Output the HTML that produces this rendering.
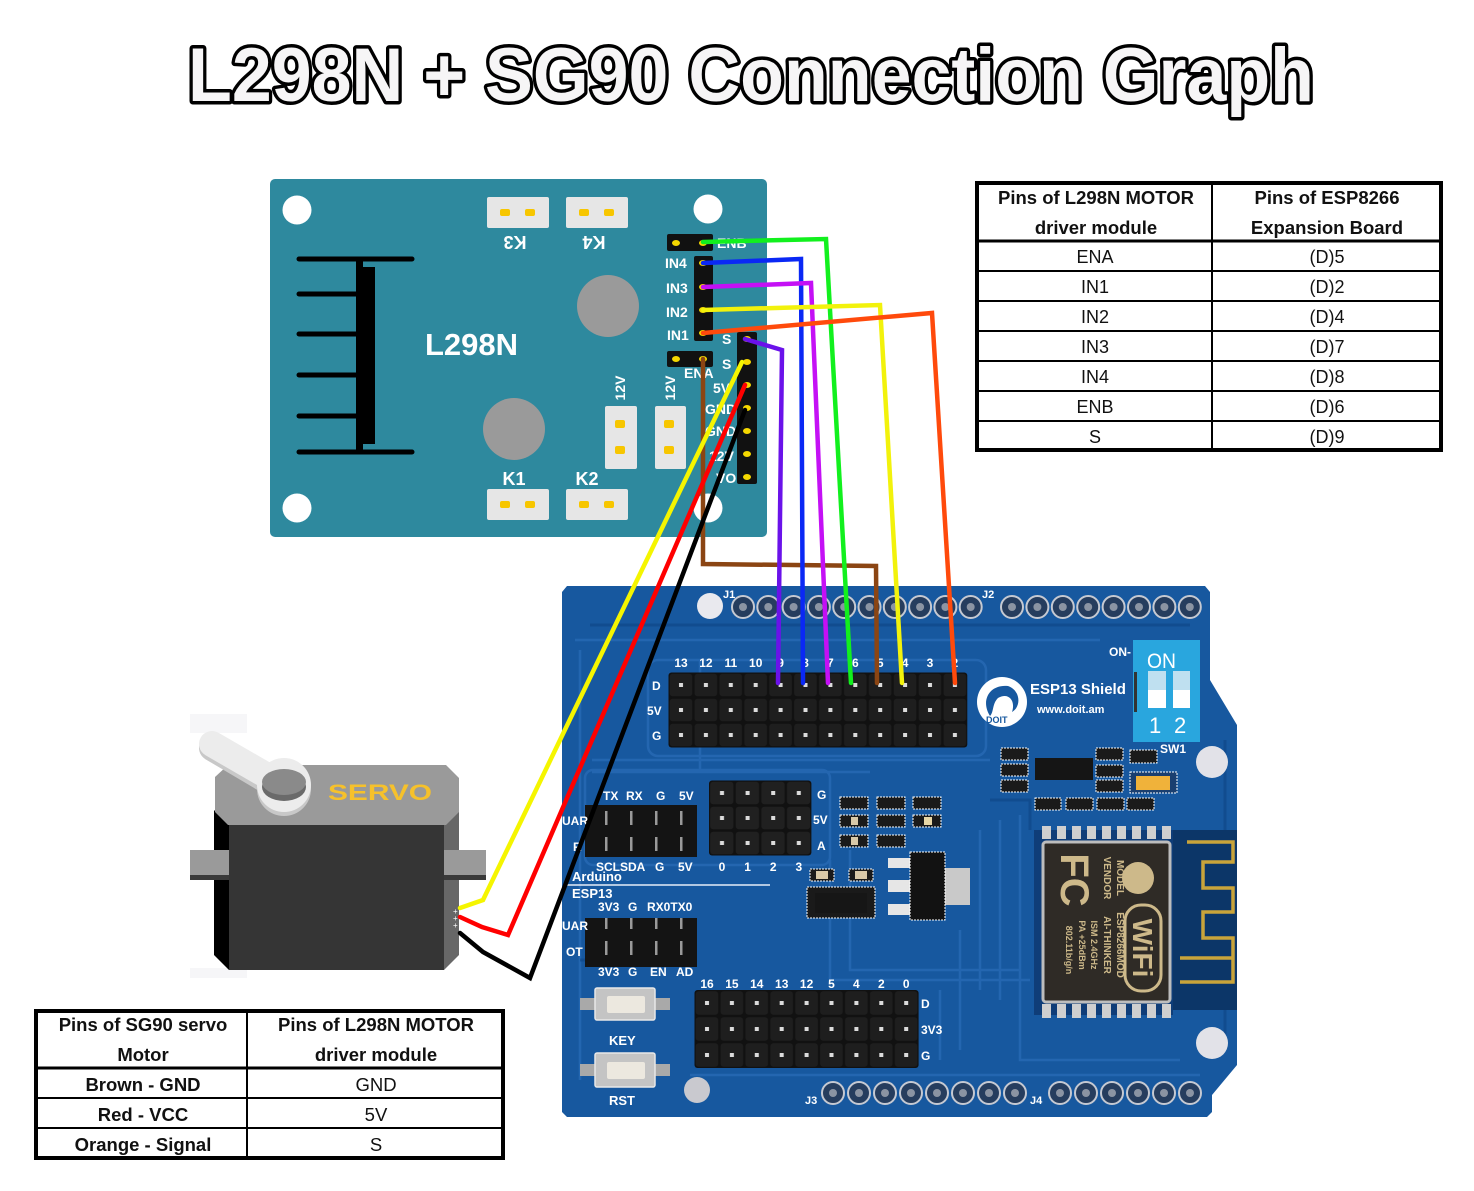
<!DOCTYPE html>
<html><head><meta charset="utf-8">
<style>
html,body{margin:0;padding:0;background:#fff;}
svg{display:block;}
text{font-family:"Liberation Sans",sans-serif;}
</style></head><body>
<svg width="1474" height="1191" viewBox="0 0 1474 1191" xmlns="http://www.w3.org/2000/svg">
<defs>
<pattern id="pd" x="668.5" y="672.5" width="24.9" height="25" patternUnits="userSpaceOnUse">
<rect width="24.9" height="25" fill="#111"/><rect x="1.2" y="1.2" width="22.5" height="22.6" rx="3" fill="#1e1e1e"/><rect x="10.5" y="10.5" width="4" height="4" fill="#dcdcdc"/></pattern>
<pattern id="pb" x="694.5" y="990" width="24.9" height="26" patternUnits="userSpaceOnUse">
<rect width="24.9" height="26" fill="#111"/><rect x="1.2" y="1.2" width="22.5" height="23.6" rx="3" fill="#1e1e1e"/><rect x="10.5" y="11" width="4" height="4" fill="#dcdcdc"/></pattern>
<pattern id="pc" x="709" y="780.5" width="25.6" height="25" patternUnits="userSpaceOnUse">
<rect width="25.6" height="25" fill="#111"/><rect x="1.2" y="1.2" width="23.2" height="22.6" rx="3" fill="#202020"/><rect x="11" y="10.5" width="4" height="4" fill="#dcdcdc"/></pattern>
<pattern id="pf" x="593.5" y="805" width="25" height="26" patternUnits="userSpaceOnUse">
<rect width="25" height="26" fill="#141414"/><rect x="11.5" y="6" width="2.5" height="14" fill="#9a9a9a"/></pattern>
</defs>

<!-- Title -->
<text x="188" y="101" font-size="76" font-weight="bold" textLength="1126" lengthAdjust="spacingAndGlyphs" fill="#f6f5f6" stroke="#000" stroke-width="7" stroke-linejoin="round" paint-order="stroke">L298N + SG90 Connection Graph</text>

<!-- ===== L298N board ===== -->
<rect x="270" y="179" width="497" height="358" rx="5" fill="#2e899e"/>
<circle cx="297" cy="210" r="14.5" fill="#fff"/>
<circle cx="708" cy="209" r="14.5" fill="#fff"/>
<circle cx="297" cy="508" r="14.5" fill="#fff"/>
<circle cx="708" cy="508" r="14.5" fill="#fff"/>
<!-- K connectors -->
<g fill="#e6e6e6">
<rect x="487" y="197" width="62" height="31" rx="2"/>
<rect x="566" y="197" width="62" height="31" rx="2"/>
<rect x="487" y="489" width="62" height="31" rx="2"/>
<rect x="566" y="489" width="62" height="31" rx="2"/>
</g>
<g fill="#f7c600">
<rect x="500" y="209" width="10" height="7" rx="2"/><rect x="525" y="209" width="10" height="7" rx="2"/>
<rect x="579" y="209" width="10" height="7" rx="2"/><rect x="604" y="209" width="10" height="7" rx="2"/>
<rect x="500" y="501" width="10" height="7" rx="2"/><rect x="525" y="501" width="10" height="7" rx="2"/>
<rect x="579" y="501" width="10" height="7" rx="2"/><rect x="604" y="501" width="10" height="7" rx="2"/>
</g>
<g fill="#fff" font-weight="bold" font-size="18">
<text x="515" y="242" text-anchor="middle" transform="rotate(180 515 242)" dy="6">K3</text>
<text x="594" y="242" text-anchor="middle" transform="rotate(180 594 242)" dy="6">K4</text>
<text x="514" y="485" text-anchor="middle">K1</text>
<text x="587" y="485" text-anchor="middle">K2</text>
</g>
<!-- heatsink -->
<g stroke="#000" stroke-width="5" stroke-linecap="round">
<line x1="299" y1="259" x2="412" y2="259"/>
<line x1="299" y1="452" x2="412" y2="452"/>
<line x1="299" y1="294" x2="356" y2="294"/>
<line x1="299" y1="334" x2="356" y2="334"/>
<line x1="299" y1="375" x2="356" y2="375"/>
<line x1="299" y1="416" x2="356" y2="416"/>
</g>
<rect x="356" y="260" width="7" height="192" fill="#000"/>
<rect x="362" y="267" width="13" height="177" fill="#000"/>
<text x="425" y="355" font-size="31" font-weight="bold" fill="#fff">L298N</text>
<circle cx="608" cy="306" r="31" fill="#9a9a9a"/>
<circle cx="514" cy="429" r="31" fill="#9a9a9a"/>
<!-- 12V connectors -->
<rect x="605" y="406" width="32" height="63" rx="2" fill="#e6e6e6"/>
<rect x="655" y="406" width="31" height="63" rx="2" fill="#e6e6e6"/>
<g fill="#f7c600">
<rect x="615" y="420" width="10" height="8" rx="2"/><rect x="615" y="446" width="10" height="8" rx="2"/>
<rect x="664" y="420" width="10" height="8" rx="2"/><rect x="664" y="446" width="10" height="8" rx="2"/>
</g>
<g fill="#fff" font-weight="bold" font-size="14">
<text x="620" y="388" text-anchor="middle" transform="rotate(-90 620 388)" dy="5">12V</text>
<text x="670" y="388" text-anchor="middle" transform="rotate(-90 670 388)" dy="5">12V</text>
</g>
<!-- pin headers -->
<rect x="667" y="234" width="46" height="17" rx="2" fill="#111"/>
<rect x="694" y="256" width="19" height="85" rx="2" fill="#111"/>
<rect x="667" y="351" width="46" height="16" rx="2" fill="#111"/>
<rect x="737" y="332" width="20" height="152" rx="2" fill="#111"/>
<g fill="#f5d800">
<ellipse cx="676" cy="243" rx="4" ry="3"/><ellipse cx="703" cy="243" rx="4" ry="3"/>
<ellipse cx="703" cy="263" rx="4" ry="3"/><ellipse cx="703" cy="287" rx="4" ry="3"/>
<ellipse cx="703" cy="310" rx="4" ry="3"/><ellipse cx="703" cy="333" rx="4" ry="3"/>
<ellipse cx="676" cy="359" rx="4" ry="3"/><ellipse cx="703" cy="359" rx="4" ry="3"/>
<ellipse cx="747" cy="339" rx="4" ry="3"/><ellipse cx="747" cy="362" rx="4" ry="3"/>
<ellipse cx="747" cy="385" rx="4" ry="3"/><ellipse cx="747" cy="408" rx="4" ry="3"/>
<ellipse cx="747" cy="431" rx="4" ry="3"/><ellipse cx="747" cy="454" rx="4" ry="3"/>
<ellipse cx="747" cy="477" rx="4" ry="3"/>
</g>
<g fill="#fff" font-weight="bold" font-size="14">
<text x="665" y="268">IN4</text>
<text x="666" y="293">IN3</text>
<text x="666" y="317">IN2</text>
<text x="667" y="340">IN1</text>
<text x="717" y="248">ENB</text>
<text x="684" y="378">ENA</text>
<text x="722" y="344">S</text>
<text x="722" y="369">S</text>
<text x="713" y="393">5V</text>
<text x="705" y="414">GND</text>
<text x="705" y="436">GND</text>
<text x="709" y="461">12V</text>
<text x="716" y="483">VO</text>
</g>

<!-- ===== ESP13 shield board ===== -->
<polygon points="562,592 567,586 1205,586 1210,592 1210,680 1237,725 1237,1065 1212,1095 1212,1112 1207,1117 567,1117 562,1112" fill="#17589f"/>
<g fill="none" stroke="#2a6cb8" stroke-width="2.5" opacity="0.7">
<rect x="648" y="660" width="338" height="96" rx="10"/>
<path d="M575,640 H1100 M580,650 V1080 M592,760 H990 M592,772 H870 M700,770 V660"/>
<path d="M830,860 V980 H1030 M850,850 V970 H1020 M980,830 V990 M1000,820 V1000 M1020,815 V1060 H1180"/>
<path d="M690,1075 H1200 M940,990 V1060 M960,930 V1050"/>
<rect x="585" y="770" width="245" height="95" rx="8"/>
</g>
<g stroke="#0d4486" stroke-width="3" fill="none" opacity="0.6">
<path d="M590,625 H1190 M1225,740 V1050 M600,960 H580 M990,800 H1030 V830"/>
</g>
<!-- mount holes -->
<circle cx="710" cy="606" r="13" fill="#e9e9ee"/>
<circle cx="1212" cy="762" r="16" fill="#e2e2e8"/>
<circle cx="1212" cy="1043" r="16" fill="#e2e2e8"/>
<circle cx="697" cy="1090" r="13" fill="#c9c9cf"/>
<!-- J headers -->
<g fill="#263d5e" stroke="#c5c9d2" stroke-width="2">
<circle cx="743" cy="607" r="11"/><circle cx="768.3" cy="607" r="11"/><circle cx="793.6" cy="607" r="11"/><circle cx="818.9" cy="607" r="11"/><circle cx="844.2" cy="607" r="11"/>
<circle cx="869.5" cy="607" r="11"/><circle cx="894.8" cy="607" r="11"/><circle cx="920.1" cy="607" r="11"/><circle cx="945.4" cy="607" r="11"/><circle cx="970.7" cy="607" r="11"/>
<circle cx="1012" cy="607" r="11"/><circle cx="1037.4" cy="607" r="11"/><circle cx="1062.8" cy="607" r="11"/><circle cx="1088.2" cy="607" r="11"/>
<circle cx="1113.6" cy="607" r="11"/><circle cx="1139" cy="607" r="11"/><circle cx="1164.4" cy="607" r="11"/><circle cx="1189.8" cy="607" r="11"/>
<circle cx="833" cy="1093" r="11"/><circle cx="859" cy="1093" r="11"/><circle cx="885" cy="1093" r="11"/><circle cx="911" cy="1093" r="11"/>
<circle cx="937" cy="1093" r="11"/><circle cx="963" cy="1093" r="11"/><circle cx="989" cy="1093" r="11"/><circle cx="1015" cy="1093" r="11"/>
<circle cx="1060" cy="1093" r="11"/><circle cx="1086" cy="1093" r="11"/><circle cx="1112" cy="1093" r="11"/><circle cx="1138" cy="1093" r="11"/><circle cx="1164" cy="1093" r="11"/><circle cx="1190" cy="1093" r="11"/>
</g>
<g fill="#8b94a3">
<circle cx="743" cy="607" r="4"/><circle cx="768.3" cy="607" r="4"/><circle cx="793.6" cy="607" r="4"/><circle cx="818.9" cy="607" r="4"/><circle cx="844.2" cy="607" r="4"/>
<circle cx="869.5" cy="607" r="4"/><circle cx="894.8" cy="607" r="4"/><circle cx="920.1" cy="607" r="4"/><circle cx="945.4" cy="607" r="4"/><circle cx="970.7" cy="607" r="4"/>
<circle cx="1012" cy="607" r="4"/><circle cx="1037.4" cy="607" r="4"/><circle cx="1062.8" cy="607" r="4"/><circle cx="1088.2" cy="607" r="4"/>
<circle cx="1113.6" cy="607" r="4"/><circle cx="1139" cy="607" r="4"/><circle cx="1164.4" cy="607" r="4"/><circle cx="1189.8" cy="607" r="4"/>
<circle cx="833" cy="1093" r="4"/><circle cx="859" cy="1093" r="4"/><circle cx="885" cy="1093" r="4"/><circle cx="911" cy="1093" r="4"/>
<circle cx="937" cy="1093" r="4"/><circle cx="963" cy="1093" r="4"/><circle cx="989" cy="1093" r="4"/><circle cx="1015" cy="1093" r="4"/>
<circle cx="1060" cy="1093" r="4"/><circle cx="1086" cy="1093" r="4"/><circle cx="1112" cy="1093" r="4"/><circle cx="1138" cy="1093" r="4"/><circle cx="1164" cy="1093" r="4"/><circle cx="1190" cy="1093" r="4"/>
</g>
<!-- main headers -->
<rect x="668.5" y="672.5" width="298.8" height="75" rx="3" fill="url(#pd)"/>
<rect x="694.5" y="990" width="224.1" height="78" rx="3" fill="url(#pb)"/>
<rect x="709" y="780.5" width="102.4" height="75" rx="3" fill="url(#pc)"/>
<rect x="585" y="805" width="112" height="52" fill="#141414"/>
<rect x="593.5" y="805" width="100" height="52" fill="url(#pf)"/>
<rect x="585" y="918" width="112" height="49" fill="#141414"/>
<rect x="593.5" y="918" width="100" height="49" fill="url(#pf)"/>
<!-- buttons -->
<g>
<rect x="580" y="998" width="90" height="12" fill="#a9a9a9"/>
<rect x="595" y="988" width="60" height="32" rx="2" fill="#c4c4c4" stroke="#e8e8e8" stroke-width="1.5"/>
<rect x="607" y="996" width="38" height="17" rx="2" fill="#ece8df"/>
<rect x="580" y="1064" width="90" height="12" fill="#a9a9a9"/>
<rect x="595" y="1053" width="60" height="34" rx="2" fill="#c4c4c4" stroke="#e8e8e8" stroke-width="1.5"/>
<rect x="607" y="1062" width="38" height="17" rx="2" fill="#ece8df"/>
</g>
<!-- logo -->
<circle cx="1002" cy="702" r="25" fill="#fff"/>
<path d="M990,716 C980,700 990,684 1008,686 C1020,690 1022,706 1012,712 C1016,700 1008,692 998,698 C992,704 994,712 990,716 Z" fill="#17589f"/>
<text x="986" y="723" font-size="9" font-weight="bold" fill="#17589f">DOIT</text>
<!-- DIP switch -->
<rect x="1133" y="640" width="67" height="102" fill="#29a6de"/>
<rect x="1134" y="672" width="3" height="40" fill="#333"/>
<rect x="1148" y="671" width="18" height="37" fill="#bfe0f0"/>
<rect x="1148" y="690" width="18" height="18" fill="#fff"/>
<rect x="1173" y="671" width="17" height="37" fill="#bfe0f0"/>
<rect x="1173" y="690" width="17" height="18" fill="#fff"/>
<g fill="#fff">
<text x="1147" y="668" font-size="21" textLength="29" lengthAdjust="spacingAndGlyphs">ON</text>
<text x="1149" y="733" font-size="22">1</text>
<text x="1174" y="733" font-size="22">2</text>
</g>
<!-- SMD components -->
<g fill="#1a1a1a" stroke="#fff" stroke-width="1" stroke-dasharray="2,1">
<rect x="840" y="797" width="28" height="12"/><rect x="877" y="797" width="28" height="12"/><rect x="913" y="797" width="28" height="12"/>
<rect x="840" y="815" width="28" height="12"/><rect x="877" y="815" width="28" height="12"/><rect x="913" y="815" width="28" height="12"/>
<rect x="840" y="835" width="28" height="12"/><rect x="877" y="835" width="28" height="12"/>
<rect x="810" y="869" width="24" height="12"/><rect x="849" y="869" width="24" height="12"/>
<rect x="807" y="887" width="68" height="31"/>
<rect x="1001" y="748" width="27" height="12"/><rect x="1001" y="764" width="27" height="12"/><rect x="1001" y="780" width="27" height="12"/>
<rect x="1096" y="748" width="27" height="12"/><rect x="1096" y="765" width="27" height="12"/><rect x="1096" y="780" width="27" height="12"/>
<rect x="1130" y="750" width="27" height="13"/>
<rect x="1035" y="798" width="26" height="12"/><rect x="1066" y="798" width="27" height="12"/><rect x="1097" y="798" width="27" height="12"/><rect x="1127" y="798" width="27" height="12"/>
<rect x="1130" y="772" width="47" height="21" fill="#1a3f70"/>
</g>
<g fill="#d9c9a8">
<rect x="851" y="817" width="7" height="8"/><rect x="851" y="837" width="7" height="8"/><rect x="924" y="817" width="8" height="8" fill="#e8d7a6"/>
<rect x="816" y="871" width="12" height="8"/><rect x="855" y="871" width="12" height="8"/>
</g>
<rect x="1136" y="776" width="34" height="14" fill="#f0b23a"/>
<rect x="1035" y="758" width="58" height="22" fill="#151515"/>
<rect x="815" y="893" width="52" height="20" fill="#161616"/>
<!-- regulator -->
<g fill="#e6e6e6">
<rect x="888" y="858" width="22" height="10"/><rect x="888" y="880" width="22" height="12"/><rect x="888" y="904" width="22" height="11"/>
</g>
<rect x="945" y="868" width="25" height="37" fill="#c9c9c9"/>
<rect x="910" y="852" width="35" height="68" fill="#121212" stroke="#fff" stroke-width="1" stroke-dasharray="2,1"/>
<!-- ESP module -->
<rect x="1034" y="830" width="139" height="185" fill="#0f3d78"/>
<rect x="1173" y="830" width="64" height="180" fill="#0c3668"/>
<path d="M1187,842 H1233 V862 H1203 V888 H1233 V912 H1203 V938 H1233 V982 H1180 M1180,958 H1233" fill="none" stroke="#c9a43a" stroke-width="3.5"/>
<g fill="#cfcfcf">
<rect x="1042" y="826" width="9" height="13"/><rect x="1057" y="826" width="9" height="13"/><rect x="1072" y="826" width="9" height="13"/><rect x="1087" y="826" width="9" height="13"/><rect x="1102" y="826" width="9" height="13"/><rect x="1117" y="826" width="9" height="13"/><rect x="1132" y="826" width="9" height="13"/><rect x="1147" y="826" width="9" height="13"/><rect x="1162" y="826" width="9" height="13"/>
<rect x="1042" y="1004" width="9" height="14"/><rect x="1057" y="1004" width="9" height="14"/><rect x="1072" y="1004" width="9" height="14"/><rect x="1087" y="1004" width="9" height="14"/><rect x="1102" y="1004" width="9" height="14"/><rect x="1117" y="1004" width="9" height="14"/><rect x="1132" y="1004" width="9" height="14"/><rect x="1147" y="1004" width="9" height="14"/><rect x="1162" y="1004" width="9" height="14"/>
</g>
<rect x="1043" y="842" width="127" height="160" rx="3" fill="#2f2b26" stroke="#bdbdbd" stroke-width="3"/>
<g fill="#cdb98a" font-weight="bold">
<text x="1075" y="880" font-size="40" transform="rotate(90 1075 880)" text-anchor="middle" dy="14">FC</text>
<circle cx="1138" cy="878" r="16"/>
<rect x="1125" y="905" width="36" height="86" rx="16" fill="none" stroke="#cdb98a" stroke-width="3"/>
<text x="1143" y="948" font-size="28" transform="rotate(90 1143 948)" text-anchor="middle" dy="10">WiFi</text>
<text x="1117" y="878" font-size="10" transform="rotate(90 1117 878)" text-anchor="middle">MODEL</text>
<text x="1104" y="878" font-size="10" transform="rotate(90 1104 878)" text-anchor="middle">VENDOR</text>
<text x="1117" y="945" font-size="10" transform="rotate(90 1117 945)" text-anchor="middle">ESP8266MOD</text>
<text x="1104" y="945" font-size="10" transform="rotate(90 1104 945)" text-anchor="middle">AI-THINKER</text>
<text x="1091" y="945" font-size="9" transform="rotate(90 1091 945)" text-anchor="middle">ISM  2.4GHz</text>
<text x="1079" y="945" font-size="9" transform="rotate(90 1079 945)" text-anchor="middle">PA  +25dBm</text>
<text x="1066" y="950" font-size="9" transform="rotate(90 1066 950)" text-anchor="middle">802.11b/g/n</text>
</g>
<!-- ESP labels -->
<g fill="#fff" font-weight="bold" font-size="12" text-anchor="middle">
<text x="681" y="667">13</text><text x="705.9" y="667">12</text><text x="730.8" y="667">11</text><text x="755.7" y="667">10</text>
<text x="780.6" y="667">9</text><text x="805.5" y="667">8</text><text x="830.4" y="667">7</text><text x="855.3" y="667">6</text>
<text x="880.2" y="667">5</text><text x="905.1" y="667">4</text><text x="930" y="667">3</text><text x="954.9" y="667">2</text>
<text x="707" y="988">16</text><text x="731.9" y="988">15</text><text x="756.8" y="988">14</text><text x="781.7" y="988">13</text>
<text x="806.6" y="988">12</text><text x="831.5" y="988">5</text><text x="856.4" y="988">4</text><text x="881.3" y="988">2</text><text x="906.2" y="988">0</text>
<text x="722" y="871">0</text><text x="747.6" y="871">1</text><text x="773.2" y="871">2</text><text x="798.8" y="871">3</text>
</g>
<g fill="#fff" font-weight="bold" font-size="12">
<text x="652" y="690">D</text><text x="647" y="715">5V</text><text x="652" y="740">G</text>
<text x="723" y="598" font-size="11">J1</text><text x="982" y="598" font-size="11">J2</text>
<text x="805" y="1104" font-size="11">J3</text><text x="1030" y="1104" font-size="11">J4</text>
<text x="1109" y="656">ON-</text>
<text x="1030" y="694" font-size="15">ESP13 Shield</text>
<text x="1037" y="713" font-size="11">www.doit.am</text>
<text x="1160" y="753">SW1</text>
<text x="603" y="800">TX</text><text x="626" y="800">RX</text><text x="656" y="800">G</text><text x="679" y="800">5V</text>
<text x="817" y="799">G</text><text x="813" y="824">5V</text><text x="817" y="850">A</text>
<text x="562" y="825">UAR</text><text x="573" y="851">R</text>
<text x="596" y="871">SCLSDA</text><text x="655" y="871">G</text><text x="678" y="871">5V</text>
<text x="572" y="881" font-size="13">Arduino</text>
<text x="572" y="898" font-size="13">ESP13</text>
<text x="598" y="911">3V3</text><text x="628" y="911">G</text><text x="647" y="911">RX0TX0</text>
<text x="562" y="930">UAR</text><text x="566" y="956">OT</text>
<text x="598" y="976">3V3</text><text x="628" y="976">G</text><text x="650" y="976">EN</text><text x="676" y="976">AD</text>
<text x="609" y="1045" font-size="13">KEY</text><text x="609" y="1105" font-size="13">RST</text>
<text x="921" y="1008">D</text><text x="921" y="1034">3V3</text><text x="921" y="1060">G</text>
</g>
<line x1="563" y1="885" x2="770" y2="885" stroke="#e6eef8" stroke-width="1.5"/>

<!-- ===== Servo ===== -->
<rect x="190" y="714" width="57" height="19" fill="#f6f6f8"/>
<rect x="190" y="968" width="57" height="10" fill="#f6f6f8"/>
<polygon points="214,810 229,825 229,970 214,955" fill="#000"/>
<polygon points="459,810 444,825 444,970 459,955" fill="#676767"/>
<rect x="229" y="825" width="215" height="145" fill="#353535"/>
<polygon points="215,777 228,765 446,765 459,778 459,812 446,825 228,825 215,812" fill="#9a9a9a"/>
<rect x="190" y="850" width="39" height="25" fill="#9a9a9a"/>
<rect x="190" y="875" width="39" height="5" fill="#3a3a3a"/>
<rect x="444" y="850" width="42" height="25" fill="#9a9a9a"/>
<rect x="444" y="875" width="42" height="5" fill="#3a3a3a"/>
<line x1="212" y1="748" x2="283" y2="790" stroke="#c8c8c8" stroke-width="26" stroke-linecap="round"/>
<circle cx="284" cy="789" r="27" fill="#c8c8c8"/>
<line x1="212" y1="744" x2="283" y2="785" stroke="#ececec" stroke-width="26" stroke-linecap="round"/>
<circle cx="284" cy="785" r="27" fill="#ececec"/>
<ellipse cx="284" cy="787" rx="22" ry="14" fill="#6a6a6a"/>
<ellipse cx="284" cy="782" rx="22" ry="13" fill="#8a8a8a"/>
<text x="328" y="800" font-family="Liberation Mono,monospace" font-weight="bold" font-size="22" fill="#f6c12b" textLength="104" lengthAdjust="spacingAndGlyphs">SERVO</text>
<g fill="#fff" font-size="8"><text x="453" y="914">+</text><text x="453" y="921">+</text><text x="453" y="928">+</text></g>

<!-- ===== Wires ===== -->
<g fill="none" stroke-width="4.5" stroke-linejoin="miter" stroke-linecap="round">
<polyline points="703,359 703,564 876,566 877,683" stroke="#8b4513"/>
<polyline points="703,242 826,239 851,683" stroke="#12f01e"/>
<polyline points="703,263 801,259 803,683" stroke="#0a28f5"/>
<polyline points="703,287 811,283 828,683" stroke="#c410f5"/>
<polyline points="703,310 880,305 902,683" stroke="#f2f20c"/>
<polyline points="703,333 932,313 955,683" stroke="#ff4a0c"/>
<polyline points="745,339 782,350 778,683" stroke="#6a12ea"/>
<polyline points="742,362 483,900 460,908" stroke="#f5f500"/>
<polyline points="745,385 508,935 482,927 460,917" stroke="#ff0000"/>
<polyline points="745,410 530,978 483,952 460,933" stroke="#000"/>
</g>

<!-- ===== Table 1 ===== -->
<rect x="977" y="183" width="464" height="267" fill="#fff" stroke="#000" stroke-width="4"/>
<g stroke="#000" stroke-width="2">
<line x1="1212" y1="183" x2="1212" y2="450"/>
<line x1="977" y1="241" x2="1441" y2="241" stroke-width="3"/>
<line x1="977" y1="271" x2="1441" y2="271"/>
<line x1="977" y1="301" x2="1441" y2="301"/>
<line x1="977" y1="331" x2="1441" y2="331"/>
<line x1="977" y1="361" x2="1441" y2="361"/>
<line x1="977" y1="391" x2="1441" y2="391"/>
<line x1="977" y1="421" x2="1441" y2="421"/>
</g>
<g font-size="18.5" font-weight="bold" text-anchor="middle" fill="#111">
<text x="1096" y="204">Pins of L298N MOTOR</text>
<text x="1096" y="234">driver module</text>
<text x="1327" y="204">Pins of ESP8266</text>
<text x="1327" y="234">Expansion Board</text>
</g>
<g font-size="18" text-anchor="middle" fill="#111">
<text x="1095" y="263">ENA</text><text x="1327" y="263">(D)5</text>
<text x="1095" y="293">IN1</text><text x="1327" y="293">(D)2</text>
<text x="1095" y="323">IN2</text><text x="1327" y="323">(D)4</text>
<text x="1095" y="353">IN3</text><text x="1327" y="353">(D)7</text>
<text x="1095" y="383">IN4</text><text x="1327" y="383">(D)8</text>
<text x="1095" y="413">ENB</text><text x="1327" y="413">(D)6</text>
<text x="1095" y="443">S</text><text x="1327" y="443">(D)9</text>
</g>

<!-- ===== Table 2 ===== -->
<rect x="36" y="1011" width="467" height="147" fill="#fff" stroke="#000" stroke-width="4"/>
<g stroke="#000" stroke-width="2">
<line x1="247" y1="1011" x2="247" y2="1158"/>
<line x1="36" y1="1068" x2="503" y2="1068" stroke-width="3"/>
<line x1="36" y1="1098" x2="503" y2="1098"/>
<line x1="36" y1="1128" x2="503" y2="1128"/>
</g>
<g font-size="18.5" font-weight="bold" text-anchor="middle" fill="#111">
<text x="143" y="1031">Pins of SG90 servo</text>
<text x="143" y="1061">Motor</text>
<text x="376" y="1031">Pins of L298N MOTOR</text>
<text x="376" y="1061">driver module</text>
<text x="143" y="1091">Brown - GND</text>
<text x="143" y="1121">Red - VCC</text>
<text x="143" y="1151">Orange - Signal</text>
</g>
<g font-size="18.5" text-anchor="middle" fill="#111">
<text x="376" y="1091">GND</text>
<text x="376" y="1121">5V</text>
<text x="376" y="1151">S</text>
</g>
</svg>
</body></html>
